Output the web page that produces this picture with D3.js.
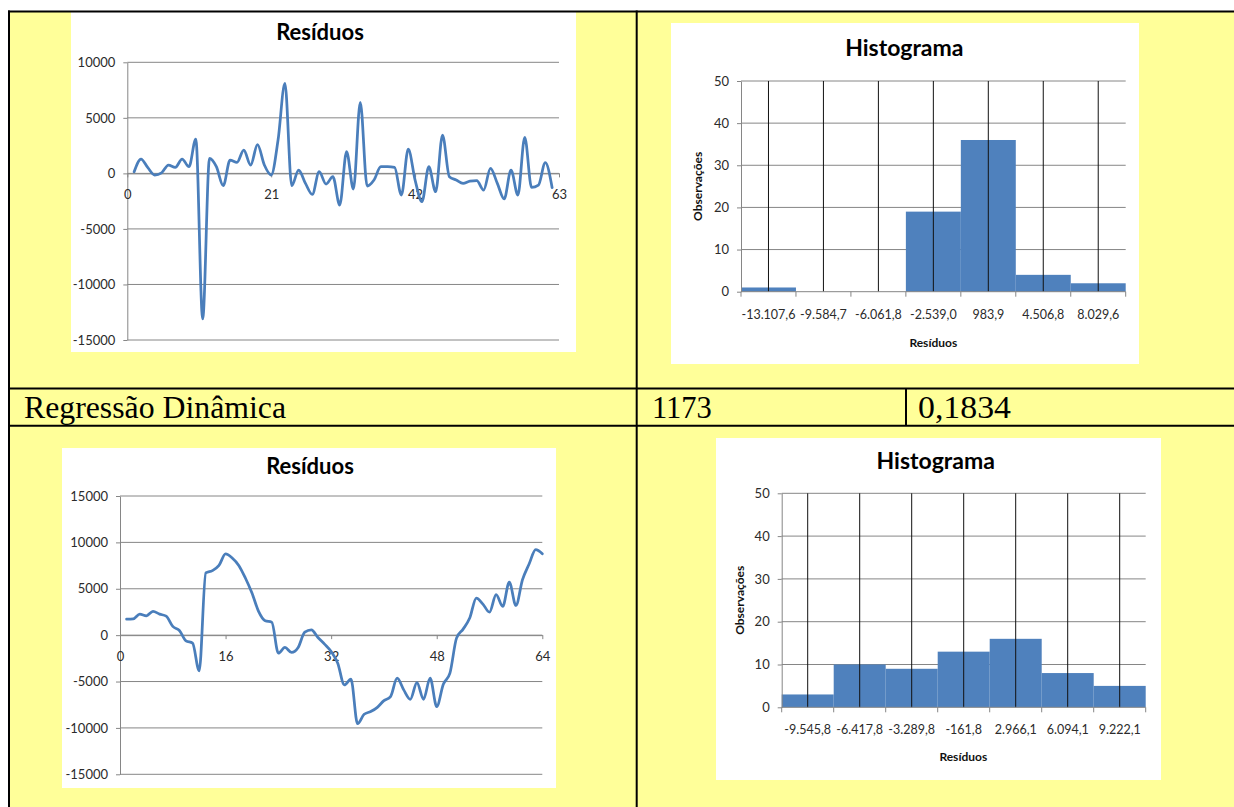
<!DOCTYPE html>
<html>
<head>
<meta charset="utf-8">
<script src="https://cdn.jsdelivr.net/npm/d3@7"></script>
<style>
  html, body { margin: 0; padding: 0; background: #ffffff; }
  svg { display: block; }
</style>
</head>
<body>
<script>
// ---- Data ---------------------------------------------------------------
// Residuals of the first model (62 observations)
const residuosModeloA = [
  150, 1290, 510, -150, 50, 750, 540, 1290, 600, 3090,
  -13108, 1350, 600, -1110, 1200, 990, 2100, 750, 2580, 750,
  -150, 3000, 8100, -1110, 300, -900, -1900, 150, -960, -300,
  -2850, 1950, -1410, 6400, -1140, -600, 600, 600, 540, -1950,
  2190, -600, -2550, 600, -1650, 3450, -300, -600, -900, -700,
  -650, -1500, 450, -900, -2300, 300, -1950, 3240, -1260, -1050,
  960, -1290
];
// Residuals of the dynamic regression (64 observations)
const residuosModeloB = [
  1730, 1760, 2270, 2090, 2560, 2270, 2050, 940, 500, -610,
  -860, -3850, 6700, 6950, 7520, 8750, 8320, 7520, 6160, 4540,
  2560, 1550, 1400, -1940, -1330, -1870, -1330, 320, 580, -250,
  -970, -1760, -3020, -5360, -4750, -9546, -8530, -8240, -7780, -7060,
  -6620, -4640, -5900, -6910, -5110, -6910, -4640, -7700, -5290, -4100,
  -320, 650, 1840, 4000, 3350, 2480, 4360, 3100, 5720, 3200,
  5980, 7670, 9220, 8780
];

const yTicksLinhaA = [-15000, -10000, -5000, 0, 5000, 10000];
const xTicksLinhaA = [0, 21, 42, 63];
const yTicksLinhaB = [-15000, -10000, -5000, 0, 5000, 10000, 15000];
const xTicksLinhaB = [0, 16, 32, 48, 64];

const classesHistA = ["-13.107,6", "-9.584,7", "-6.061,8", "-2.539,0", "983,9", "4.506,8", "8.029,6"];
const freqHistA = [1, 0, 0, 19, 36, 4, 2];
const classesHistB = ["-9.545,8", "-6.417,8", "-3.289,8", "-161,8", "2.966,1", "6.094,1", "9.222,1"];
const freqHistB = [3, 10, 9, 13, 16, 8, 5];
const yTicksHist = [0, 10, 20, 30, 40, 50];

const nomeModelo = "Regressão Dinâmica";
const valoresModelo = ["1173", "0,1834"];

// ---- Styles -------------------------------------------------------------
const FONT = "Lato, 'Open Sans', sans-serif";
const GRID = "#868686";
const TEXT = "#2b2b2b";
const LINE_BLUE = "#4A7EBB";
const BAR_BLUE = "#4F81BD";
const YELLOW = "#FFFF99";

const svg = d3.select("body").append("svg")
  .attr("width", 1234).attr("height", 807);

svg.append("rect").attr("width", 1234).attr("height", 807).attr("fill", "#ffffff");

// ---- Table frame --------------------------------------------------------
svg.append("rect").attr("x", 9).attr("y", 11).attr("width", 1225).attr("height", 796).attr("fill", YELLOW);

const borders = [
  [8, 11.5, 1234, 11.5],
  [9, 10.5, 9, 807],
  [636.7, 10.5, 636.7, 807],
  [8, 388.5, 1234, 388.5],
  [8, 425.8, 1234, 425.8],
  [906, 388.5, 906, 425.8]
];

// ---- Line chart of residuals -------------------------------------------
function graficoLinha(cfg, valores, yTicks, xTicks) {
  const g = svg.append("g");
  g.append("rect").attr("x", cfg.box[0]).attr("y", cfg.box[1])
    .attr("width", cfg.box[2]).attr("height", cfg.box[3]).attr("fill", "#ffffff");

  const x = d3.scaleLinear().domain([xTicks[0], xTicks[xTicks.length - 1]]).range([cfg.x0, cfg.x1]);
  const y = d3.scaleLinear().domain([yTicks[0], yTicks[yTicks.length - 1]]).range([cfg.yBottom, cfg.yTop]);

  g.append("g").selectAll("line").data(yTicks).join("line")
    .attr("x1", cfg.x0).attr("x2", cfg.x1)
    .attr("y1", d => y(d)).attr("y2", d => y(d))
    .attr("stroke", GRID).attr("stroke-width", 1);

  const yAxis = g.append("g").attr("transform", `translate(${cfg.x0},0)`)
    .call(d3.axisLeft(y).tickValues(yTicks).tickSize(4).tickSizeOuter(0).tickPadding(8)
      .tickFormat(d => String(d)));
  yAxis.select(".domain").attr("stroke", GRID);
  yAxis.selectAll(".tick line").attr("stroke", GRID);
  yAxis.selectAll("text").attr("font-family", FONT).attr("font-size", 13).attr("fill", TEXT);

  const xAxis = g.append("g").attr("transform", `translate(0,${y(0)})`)
    .call(d3.axisBottom(x).tickValues(xTicks).tickSize(4).tickSizeOuter(0).tickPadding(12.5)
      .tickFormat(d => String(d)));
  xAxis.select(".domain").attr("stroke", GRID);
  xAxis.selectAll(".tick line").attr("stroke", GRID);
  xAxis.selectAll("text").attr("font-family", FONT).attr("font-size", 13).attr("fill", TEXT);

  const linha = d3.line()
    .x((d, i) => x(i + 1))
    .y(d => y(d))
    .curve(d3.curveMonotoneX);
  g.append("path").datum(valores).attr("d", linha)
    .attr("fill", "none").attr("stroke", LINE_BLUE)
    .attr("stroke-width", 2.75).attr("stroke-linejoin", "round").attr("stroke-linecap", "round");

  g.append("text").attr("x", cfg.title[0]).attr("y", cfg.title[1]).attr("dy", "0.35em")
    .attr("text-anchor", "middle").attr("font-family", FONT).attr("font-weight", "bold")
    .attr("font-size", cfg.titleSize).attr("fill", "#000").text("Resíduos");
}

// ---- Histogram of residuals --------------------------------------------
function histograma(cfg, classes, freq, yTicks) {
  const g = svg.append("g");
  g.append("rect").attr("x", cfg.box[0]).attr("y", cfg.box[1])
    .attr("width", cfg.box[2]).attr("height", cfg.box[3]).attr("fill", "#ffffff");

  const x = d3.scaleBand().domain(classes).range([cfg.x0, cfg.x1]).padding(0);
  const y = d3.scaleLinear().domain([yTicks[0], yTicks[yTicks.length - 1]]).range([cfg.yBottom, cfg.yTop]);

  g.append("g").selectAll("line").data(yTicks.slice(1)).join("line")
    .attr("x1", cfg.x0).attr("x2", cfg.x1)
    .attr("y1", d => y(d)).attr("y2", d => y(d))
    .attr("stroke", GRID).attr("stroke-width", 1);

  g.append("g").selectAll("rect").data(classes).join("rect")
    .attr("x", d => x(d)).attr("width", x.bandwidth())
    .attr("y", (d, i) => y(freq[i])).attr("height", (d, i) => y(0) - y(freq[i]))
    .attr("fill", BAR_BLUE);

  g.append("g").selectAll("line").data(classes).join("line")
    .attr("x1", d => x(d) + x.bandwidth() / 2).attr("x2", d => x(d) + x.bandwidth() / 2)
    .attr("y1", cfg.yTop).attr("y2", cfg.yBottom)
    .attr("stroke", "#111111").attr("stroke-width", 1);

  const yAxis = g.append("g").attr("transform", `translate(${cfg.x0},0)`)
    .call(d3.axisLeft(y).tickValues(yTicks).tickSize(4).tickSizeOuter(0).tickPadding(8)
      .tickFormat(d => String(d)));
  yAxis.select(".domain").attr("stroke", GRID);
  yAxis.selectAll(".tick line").attr("stroke", GRID);
  yAxis.selectAll("text").attr("font-family", FONT).attr("font-size", 13).attr("fill", TEXT);

  // class boundaries as tick marks on the baseline
  const limites = classes.map(d => x(d)).concat([cfg.x1]);
  g.append("line").attr("x1", cfg.x0).attr("x2", cfg.x1)
    .attr("y1", y(0)).attr("y2", y(0)).attr("stroke", GRID);
  g.append("g").selectAll("line").data(limites).join("line")
    .attr("x1", d => d).attr("x2", d => d)
    .attr("y1", y(0)).attr("y2", y(0) + 5).attr("stroke", GRID);

  const xAxis = g.append("g").attr("transform", `translate(0,${y(0)})`)
    .call(d3.axisBottom(x).tickSize(0).tickPadding(18));
  xAxis.select(".domain").remove();
  xAxis.selectAll("text").attr("font-family", FONT).attr("font-size", 12.5).attr("fill", TEXT);

  g.append("text").attr("x", cfg.title[0]).attr("y", cfg.title[1]).attr("dy", "0.35em")
    .attr("text-anchor", "middle").attr("font-family", FONT).attr("font-weight", "bold")
    .attr("font-size", 23).attr("fill", "#000").text("Histograma");

  g.append("text").attr("transform", `translate(${cfg.yTitle[0]},${(cfg.yTop + cfg.yBottom) / 2}) rotate(-90)`)
    .attr("dy", "0.35em").attr("text-anchor", "middle").attr("font-family", FONT)
    .attr("font-weight", "bold").attr("font-size", 12).attr("fill", "#111").text("Observações");

  g.append("text").attr("x", cfg.xTitle[0]).attr("y", cfg.xTitle[1]).attr("dy", "0.35em")
    .attr("text-anchor", "middle").attr("font-family", FONT)
    .attr("font-weight", "bold").attr("font-size", 12).attr("fill", "#111").text("Resíduos");
}

graficoLinha({ box: [71, 12, 505, 340], x0: 127.3, x1: 559, yTop: 62.3, yBottom: 340,
  title: [320, 32.7], titleSize: 22 }, residuosModeloA, yTicksLinhaA, xTicksLinhaA);

graficoLinha({ box: [62, 448, 494, 340], x0: 120, x1: 542.3, yTop: 496, yBottom: 774.3,
  title: [310, 466.7], titleSize: 22 }, residuosModeloB, yTicksLinhaB, xTicksLinhaB);

histograma({ box: [671, 23, 468, 341], x0: 741, x1: 1125.7, yTop: 81, yBottom: 291.7,
  title: [904.3, 48.3], yTitle: [698, 0], xTitle: [933.3, 342.3] }, classesHistA, freqHistA, yTicksHist);

histograma({ box: [716, 438, 445, 342], x0: 781.7, x1: 1145.7, yTop: 493.3, yBottom: 707.3,
  title: [935.7, 461], yTitle: [739.3, 0], xTitle: [963.3, 756.7] }, classesHistB, freqHistB, yTicksHist);

// table rules drawn last so they sit on top of the cells
svg.append("g").selectAll("line").data(borders).join("line")
  .attr("x1", d => d[0]).attr("y1", d => d[1]).attr("x2", d => d[2]).attr("y2", d => d[3])
  .attr("stroke", "#000").attr("stroke-width", 2);

// model row
const SERIF = "'Liberation Serif', 'DejaVu Serif', serif";
svg.append("text").attr("x", 24).attr("y", 417.5).attr("font-family", SERIF)
  .attr("font-size", 30.5).attr("fill", "#000")
  .attr("textLength", 262).attr("lengthAdjust", "spacingAndGlyphs").text(nomeModelo);
svg.append("text").attr("x", 652).attr("y", 417.5).attr("font-family", SERIF)
  .attr("font-size", 30.5).attr("fill", "#000").text(valoresModelo[0]);
svg.append("text").attr("x", 918).attr("y", 417.5).attr("font-family", SERIF)
  .attr("font-size", 30.5).attr("fill", "#000")
  .attr("textLength", 93).attr("lengthAdjust", "spacingAndGlyphs").text(valoresModelo[1]);
</script>
</body>
</html>
